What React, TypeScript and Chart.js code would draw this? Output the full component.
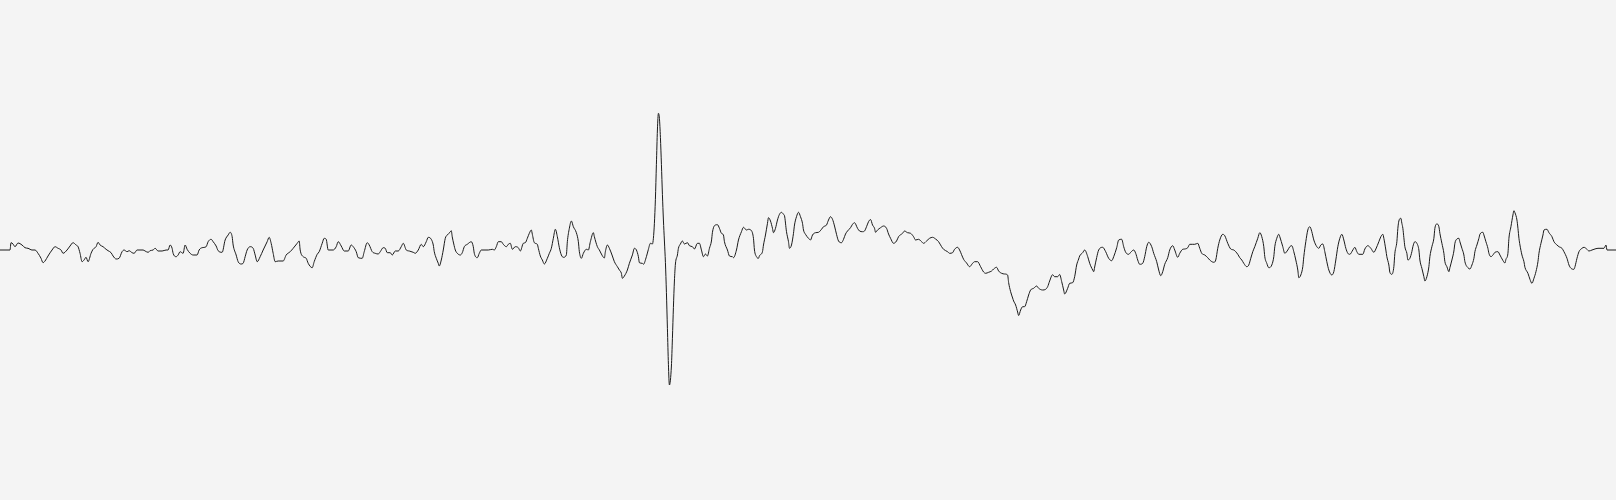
import React, { useEffect, useRef } from "react";
import { Chart, registerables } from "chart.js";

Chart.register(...registerables);

// Sample index (time) of each reading
const sampleIndex: number[] = [
  0, 10, 11, 13, 15, 18, 22, 25, 28, 32, 35, 38, 41, 43, 45, 48, 52, 55, 58, 61, 63, 67, 70, 73, 76, 78, 80, 82, 84, 86, 88, 91, 93, 96, 98,
  100, 103, 106, 108, 111, 113, 116, 119, 122, 124, 127, 129, 132, 134, 137, 143, 145, 148, 150, 153, 155, 158, 162, 166, 168, 170, 172, 173, 176, 178,
  180, 183, 185, 187, 190, 193, 197, 199, 202, 206, 208, 211, 213, 216, 218, 222, 225, 228, 230, 232, 233, 236, 238, 241, 243, 245, 247, 250, 253, 255,
  257, 260, 263, 267, 269, 271, 273, 275, 278, 283, 286, 290, 293, 297, 299,
  300, 303, 306, 308, 312, 314, 317, 319, 322, 324, 326, 328, 333, 336, 338, 341, 344, 348, 351, 353, 356, 358, 362, 364, 367, 369, 372, 375, 378,
  380, 383, 385, 387, 390, 392, 395, 398, 401, 403, 406, 409, 413, 415, 418, 421, 423, 426, 428, 431, 433, 434, 436, 438, 439, 441, 443, 445, 447,
  450, 451, 452, 453.5, 455, 457, 460, 462, 464, 467, 471, 473, 474, 477, 479, 481, 488, 492, 494, 496, 498, 501, 503, 506, 508, 510, 512, 515, 518,
  520, 523, 525, 527, 529, 531, 532, 534, 537, 538, 540, 542, 544, 547, 549, 551, 553, 555, 557, 559, 561, 563, 566, 567, 569, 571, 573, 576, 578, 579,
  581, 583, 586, 588, 590, 593, 594, 597, 599, 602, 604, 605, 607, 609, 612, 614, 617, 619, 621, 622, 624, 627, 629, 632, 634, 636, 638, 639, 642, 643,
  646, 648, 650, 652, 653, 654, 655, 656, 657, 658, 659, 660, 661, 662, 663, 664, 665, 666, 667, 668, 669, 671, 672, 673, 674, 675, 677, 678, 680,
  682, 684, 687, 689, 692, 694, 697, 699, 701, 703, 705, 707, 709, 711, 712, 714, 717, 719, 721, 723, 724, 727, 729, 732, 733, 736, 738, 741, 743, 746,
  748, 751, 753, 754, 756, 758, 759, 762, 763, 765, 767, 768, 770, 772, 773, 775, 777, 779, 781, 783, 784, 786, 788, 789, 791, 793, 794, 796, 798,
  800, 802, 803, 805, 808, 810, 812, 815, 818, 821, 823, 826, 828, 830, 832, 834, 836, 838, 841, 843, 845, 847, 850, 852, 854, 857, 859, 862, 864, 866,
  868, 870, 872, 874, 875, 877, 880, 883, 886, 888, 890, 893, 896, 898, 902, 904, 907, 910, 913, 915, 918, 921, 923, 926, 929, 932, 935, 938, 941, 943,
  947, 949, 952, 954, 957, 959, 961, 963, 966, 969, 972, 974, 977, 980, 983, 985, 988, 991, 993, 996, 998, 1001, 1004, 1007, 1008, 1010, 1012, 1013,
  1015, 1017, 1018, 1020, 1022, 1024, 1026, 1028, 1030, 1033, 1036, 1038, 1042, 1045, 1047, 1049, 1052, 1054, 1057, 1059, 1061, 1063, 1064, 1067, 1069,
  1072, 1074, 1076, 1078, 1079, 1082, 1084, 1087, 1089, 1092, 1093, 1094, 1096, 1098, 1102, 1105, 1108, 1111, 1113, 1116, 1118, 1121, 1123, 1125, 1128,
  1130, 1133, 1135, 1137, 1139, 1142, 1144, 1146, 1148, 1151, 1153, 1156, 1158, 1160, 1162, 1164, 1167, 1169, 1172, 1174, 1177, 1179, 1182, 1184, 1187,
  1189, 1192, 1194, 1197, 1199, 1201, 1204, 1207, 1209, 1213, 1215, 1217, 1219, 1222, 1224, 1227, 1230, 1233, 1237, 1239, 1241, 1243, 1246, 1248, 1250,
  1252, 1254, 1257, 1259, 1261, 1263, 1264, 1266, 1268, 1271, 1273, 1274, 1276, 1278, 1279, 1282, 1284, 1287, 1289, 1291, 1293, 1295, 1297, 1298, 1300,
  1302, 1303, 1305, 1307, 1309, 1311, 1313, 1316, 1318, 1320, 1322, 1324, 1326, 1328, 1331, 1333, 1335, 1337, 1339, 1341, 1343, 1345, 1347, 1349, 1352,
  1354, 1356, 1358, 1362, 1364, 1367, 1370, 1373, 1375, 1378, 1380, 1382, 1383, 1385, 1386, 1388, 1389, 1391, 1393, 1394, 1396, 1397, 1398, 1400, 1401,
  1402, 1403, 1404, 1406, 1407, 1409, 1411, 1412, 1414, 1416, 1418, 1419, 1421, 1423, 1424, 1426, 1428, 1429, 1431, 1433, 1434, 1436, 1438, 1439, 1441,
  1443, 1444, 1446, 1448, 1449, 1451, 1453, 1454, 1456, 1458, 1459, 1461, 1463, 1464, 1467, 1469, 1471, 1473, 1474, 1476, 1478, 1479, 1482, 1483, 1485,
  1487, 1488, 1490, 1492, 1494, 1497, 1499, 1502, 1504, 1505, 1507, 1508, 1510, 1512, 1513, 1514, 1516, 1517, 1518, 1519, 1521, 1523, 1524, 1527, 1529,
  1531, 1533, 1535, 1537, 1538, 1540, 1542, 1543, 1546, 1548, 1551, 1553, 1556, 1558, 1561, 1563, 1566, 1568, 1570, 1573, 1574, 1576, 1578, 1581, 1583,
  1586, 1588, 1591, 1593, 1597, 1603, 1605, 1606, 1615,
];

// Amplitude read at each sample
const amplitude: number[] = [
  0, 0, 7.3, 6, 3.3, 7, 5, 2.3, 1.7, 0, 0, -3.3, -8.3, -12.7, -11, -6, 0, 3.3, 1.7, 0, -3.3, 0, 4, 7.3, 5, 3.3, -3.3, -11.7, -10, -7.3, -11.7, -3.3, 0.7, 3.3, 7.7,
  5, 3.3, 0.7, -0.7, -2.7, -6, -9, -8.3, -1.7, 0, -1.7, -0.7, -2.7, -3.3, 0, 0, -1, -2.3, -0.7, 0, 1.7, -1, -1, 0, 0, 5, 1.7, -3.3, -6.7, -5,
  -1.7, -3.3, 5, 0.7, -3.3, -5, -5, 0, 2.3, 3.3, 8.3, 10.7, 8.3, 4, -0.7, -2.3, 10, 15, 17.7, 13.3, 5, -5, -11.7, -14, -13.3, -6.7, 0, 3.3, 1.7, -5,
  -11.7, -6.7, 0, 8.3, 12.7, 6.7, -3.3, -11.7, -11, -11, -5, -1.7, 1.7, 6.7, 9,
  0, -6.7, -8.3, -13.3, -17.7, -11.7, -4.3, -1.7, 6.7, 11.7, 10.7, 0, 0, 3.3, 8.3, 4, -1, -1, 5, 3.3, -1.7, -7.7, -8.3, -1.7, 7.3, 5, -1.7, -3.3, -4,
  -1.7, 2.3, 1.7, -2.7, -2.7, -5, -1, -1, 3.3, 6.7, 0, -1, -2.3, -3.3, 0, 5.7, 3.3, 8.3, 12.7, 10.7, 5, -1.7, -8.3, -13.3, -16, -10, 0, 11.7, 15,
  18, 19.3, 13, 6, 0, -3.3, -5, -2.7, 3.3, 5.7, 8.3, 3.3, -3.3, -7.7, -3.3, 0, 0, 0.7, 0, 3.3, 8.3, 8.3, 5.7, 3.3, 5.7, 6.7, 0.7, 3.3, 2.3,
  -1, 6.7, 7.3, 11.7, 16.7, 20, 15.7, 7.3, 5.7, 1.7, -6, -10, -14, -8.3, -3.3, 1.7, 11.7, 20.7, 13.3, 2.3, -5, -7.3, -5, 8.3, 21.7, 29, 23.3, 17.3, 8.3, -1.7,
  -8.3, -3.3, 0.7, 0, 8.3, 17.3, 13.3, 3.3, 0, -5.8, -8, -1.7, 5, 1.7, -6, -11.7, -16.7, -20, -23.3, -28.3, -26, -20, -13.3, -5, 1.7, 0, -6.7, -12.7, -13.3, -14.3,
  -6.7, 0.7, 6.7, 6, 11.7, 26.7, 50.7, 85.7, 120, 136.7, 131.7, 112.7, 85.7, 55.7, 30, 9, -12.3, -42.3, -78.3, -114.3, -135, -116, -88.3, -57.3, -31, -14, -5, 1.7, 6,
  9, 6, 7.3, 4.3, 3.3, 1, 6.7, 6.7, 0, -6.7, -4, -6, 1.7, 9, 17.7, 24.3, 25.3, 21.7, 16.7, 15, 8.3, 0, -6, -6.7, -7.7, 0, 10, 18.3, 22.7, 20,
  20.7, 19.3, 11.7, 0, -6.7, -8.3, -5.7, -1.7, 5, 15, 26.7, 32.3, 29, 21.7, 17.3, 21.7, 30, 35.7, 37.7, 35.7, 34.3, 18.3, 8.3, 1.7, 5, 16.7, 25, 33.3, 37.7,
  33.3, 26.7, 20, 15.7, 11.7, 10, 15, 17.3, 17.7, 20.7, 23.3, 25, 30, 33.3, 30.7, 24, 15.7, 9, 7.3, 10.7, 16, 19, 22.3, 25.7, 27.3, 21.7, 19, 18.3, 19, 23.3,
  28.3, 30.5, 25, 21.7, 17.7, 20, 22.3, 24, 21.7, 16, 11.7, 6.7, 9, 13.3, 16.7, 19, 17.3, 16.7, 13.3, 10, 10.7, 8.3, 6.7, 9, 11.7, 12.7, 11, 8.3, 3.3, 0.7,
  -1.7, -3.3, -2.7, 0.7, 2.7, 0, -4.7, -9.3, -13, -16.7, -13.3, -11.7, -11.7, -16.7, -22, -23.3, -22.3, -21, -19, -17.3, -21, -23.3, -24, -25, -32.5, -41.7, -48, -51,
  -55, -62, -65.5, -60, -56.7, -56.7, -51.7, -45, -40, -38.3, -36, -38.3, -40, -39.3, -36.7, -31, -24.7, -26.7, -26.7, -24.5, -31.5, -40, -44, -38.3, -33.3,
  -32.7, -26.7, -15, -9, -6, -2.7, 0, -6.5, -13.3, -20, -21.7, -17, -7.5, 0, 2.7, -1.7, -8.3, -10.7, -6.7, 2.3, 10, 10.7, 3.3, -2.3, -4.3,
  -2.3, 0, -3.3, -10, -14.3, -13.3, -6.7, 3.3, 7.7, 3.3, -3.3, -11.7, -20, -25.7, -21.7, -14.3, -7.7, 0, 4.3, 0, -7.3, -3.3, 0.7, 1, 2.3,
  5.7, 5.7, 5.7, 6.7, 1.7, -3.3, -5, -7.7, -10, -12.3, -10, 1.7, 10, 15.7, 14.3, 6.7, 1, 0, -4.3, -7.7, -10, -13.3, -16.7, -15, -8.3,
  -1.7, 3.3, 11.7, 17.3, 13.3, 3.3, -6.7, -13.3, -17.7, -15, -6.7, 3.3, 11.7, 15.7, 13.3, 3.3, -3.3, 0, 3.3, 4.3, -1.7, -10, -20, -27.7, -25,
  -16.7, -6.7, 8.3, 20, 23.3, 18.3, 10, 3.3, 1.7, 5, 6, -1.7, -11.7, -20, -25, -21.7, -10, 3.3, 11.7, 15.7, 10, 1.7, -3.3, -4.3, 0,
  2.7, -1.7, -4.3, -4.3, 1, 4.3, 1.7, -2.3, 1, 8.3, 13.3, 15.7, 11.7, 0, -6.7, -15, -22.3, -24.3, -16.7, -3.3, 8.3, 21.7, 29, 31.7, 26.7,
  21.7, 12.3, 3.3, -3.3, -10, -8.3, -1.7, 3.3, 8.3, 6.7, 0, -10, -18.3, -26.7, -31, -26.7, -16.7, -6.7, 3.3, 11.7, 21.7, 26, 23.3, 16.7, 6.7,
  -3.3, -11.7, -16.7, -21.7, -17.7, -10, -1, 6.7, 11, 11.7, 8.3, 1.7, -5, -11.7, -17.7, -19, -15, -8.3, -1.7, 5, 11.7, 15.7, 17.7, 15, 8.3,
  1.7, -3.3, -6.7, -5, -2.3, -1.7, -5, -10.5, -13, -9.3, -3.3, 11.7, 23.3, 35, 39.3, 37.3, 30, 21.7, 11.7, 5, -5, -11.7, -17.3, -23.3, -29.3,
  -33.3, -28.3, -21.7, -11.7, -3.3, 6.7, 15, 20, 20.7, 17.3, 13.3, 8.3, 5, 3.3, 1.7, -1.7, -8.3, -15, -18.3, -19.3, -16.7, -8.3, -1.7, 1.7, 2.7,
  0.7, -1, 0, 0.7, 1.7, 1.7, 5, 0, 0,
];

const X_MIN = 0;
const X_MAX = 1615;
const Y_MIN = -250;
const Y_MAX = 250;

export default function App() {
  const ref = useRef<HTMLCanvasElement | null>(null);

  useEffect(() => {
    if (!ref.current) return;
    const n = Math.min(sampleIndex.length, amplitude.length);
    const points = [];
    for (let i = 0; i < n; i++) points.push({ x: sampleIndex[i], y: amplitude[i] });
    const chart = new Chart(ref.current, {
      type: "line",
      data: {
        datasets: [
          {
            data: points,
            borderColor: "#1a1a1a",
            borderWidth: 1,
            pointRadius: 0,
            cubicInterpolationMode: "monotone",
            fill: false,
          },
        ],
      },
      options: {
        animation: false,
        responsive: false,
        maintainAspectRatio: false,
        parsing: false,
        layout: { padding: 0 },
        plugins: { legend: { display: false }, tooltip: { enabled: false } },
        scales: {
          x: { type: "linear", min: X_MIN, max: X_MAX, display: false },
          y: { type: "linear", min: Y_MIN, max: Y_MAX, display: false },
        },
      },
    });
    return () => chart.destroy();
  }, []);

  return (
    <div
      style={{
        position: "fixed",
        left: 0,
        top: 0,
        width: 1616,
        height: 500,
        background: "#f4f4f4",
      }}
    >
      <canvas ref={ref} width={1616} height={500} style={{ display: "block" }} />
    </div>
  );
}
